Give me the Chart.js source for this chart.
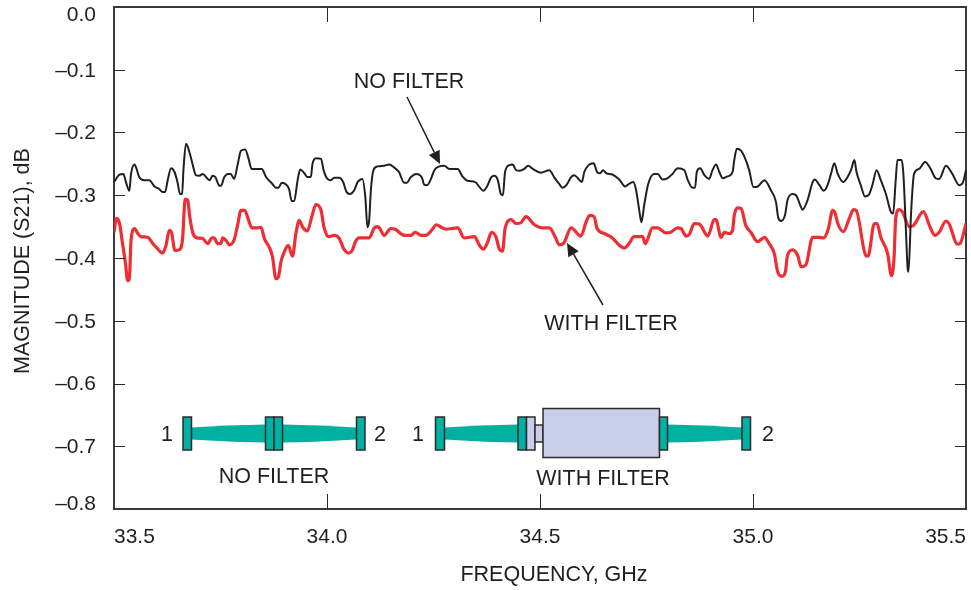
<!DOCTYPE html>
<html>
<head>
<meta charset="utf-8">
<title>Magnitude S21</title>
<script src="https://cdn.jsdelivr.net/npm/chart.js@4/dist/chart.umd.min.js"></script>
<style>
  html, body { margin: 0; padding: 0; background: #fff; }
  canvas { display: block; }
</style>
</head>
<body>
<canvas id="s21Chart" width="971" height="590"></canvas>
<script>
const xTicks = [33.5, 34.0, 34.5, 35.0, 35.5];
const yTicks = [0, -0.1, -0.2, -0.3, -0.4, -0.5, -0.6, -0.7, -0.8];

const noFilterFreq = [
  33.500,33.513,33.522,33.528,33.536,33.540,33.548,33.553,33.559,33.571,33.583,33.595,33.606,33.614,33.620,33.626,
  33.634,33.642,33.649,33.655,33.660,33.663,33.669,33.677,33.685,33.692,33.700,33.708,33.720,33.725,33.731,33.738,
  33.746,33.751,33.759,33.767,33.774,33.782,33.790,33.798,33.808,33.816,33.823,33.833,33.847,33.857,33.872,33.880,
  33.886,33.894,33.904,33.911,33.917,33.923,33.931,33.937,33.947,33.954,33.962,33.966,33.974,33.986,33.992,34.001,
  34.009,34.017,34.029,34.038,34.046,34.054,34.064,34.072,34.083,34.090,34.095,34.099,34.103,34.109,34.119,34.134,
  34.146,34.158,34.169,34.181,
  34.187,34.197,34.209,34.223,34.228,34.235,34.244,34.252,34.264,34.275,34.287,34.307,34.318,34.330,34.348,34.358,
  34.367,34.375,34.385,34.393,34.401,34.408,34.413,34.418,34.428,34.436,34.444,34.453,34.463,34.472,34.483,34.502,
  34.522,34.533,34.545,34.553,34.562,34.573,34.580,34.588,34.598,34.604,34.614,34.626,34.634,34.641,34.648,34.656,
  34.670,34.686,34.700,34.709,34.719,34.725,34.733,34.738,34.745,34.754,34.768,34.776,34.788,34.799,34.811,34.823,
  34.839,34.847,34.858,34.864,34.868,34.876,34.886,34.897,34.905,34.913,34.921,34.929,34.940,34.952,34.956,34.962,
  34.972,34.980,34.991,35.001,35.011,35.027,35.042,35.054,35.059,35.066,35.075,35.081,35.093,35.101,35.111,35.116,
  35.128,35.140,35.145,35.156,35.166,35.175,35.183,35.191,35.199,35.212,35.222,35.230,35.238,35.243,35.253,35.263,
  35.273,35.281,35.290,35.300,35.312,35.324,35.329,35.335,35.339,35.349,35.353,35.359,35.363,35.365,35.371,35.378,
  35.390,35.404,35.417,35.429,35.437,35.453,35.468,35.484,35.492,35.500
];
const noFilterMag = [
  -.279,-.267,-.266,-.279,-.293,-.266,-.251,-.258,-.271,-.276,-.276,-.286,-.290,-.295,-.295,-.276,
  -.257,-.263,-.279,-.298,-.298,-.260,-.218,-.231,-.252,-.268,-.269,-.266,-.274,-.276,-.269,-.271,
  -.284,-.285,-.271,-.266,-.266,-.274,-.252,-.229,-.227,-.242,-.258,-.258,-.258,-.271,-.282,-.288,
  -.288,-.280,-.283,-.290,-.309,-.309,-.276,-.259,-.265,-.271,-.271,-.250,-.241,-.242,-.260,-.274,
  -.276,-.272,-.272,-.279,-.295,-.298,-.292,-.279,-.274,-.303,-.351,-.340,-.292,-.260,-.254,-.253,
  -.251,-.256,-.263,-.280,
  -.280,-.271,-.266,-.272,-.283,-.284,-.274,-.260,-.254,-.253,-.258,-.258,-.270,-.277,-.279,-.287,
  -.293,-.287,-.272,-.269,-.276,-.298,-.300,-.263,-.252,-.251,-.260,-.261,-.258,-.253,-.258,-.264,
  -.260,-.271,-.282,-.288,-.284,-.271,-.268,-.272,-.279,-.263,-.252,-.249,-.263,-.265,-.260,-.265,
  -.267,-.275,-.286,-.282,-.279,-.290,-.324,-.343,-.314,-.282,-.266,-.266,-.275,-.273,-.266,-.257,
  -.260,-.276,-.288,-.288,-.263,-.257,-.268,-.274,-.260,-.251,-.263,-.273,-.270,-.263,-.244,-.226,
  -.229,-.239,-.260,-.287,-.286,-.276,-.292,-.311,-.335,-.341,-.332,-.308,-.298,-.300,-.316,-.323,
  -.308,-.279,-.275,-.284,-.293,-.284,-.266,-.249,-.266,-.279,-.271,-.260,-.244,-.263,-.284,-.302,
  -.298,-.282,-.260,-.276,-.298,-.327,-.329,-.276,-.244,-.244,-.266,-.356,-.417,-.422,-.329,-.266,
  -.258,-.247,-.258,-.273,-.274,-.253,-.266,-.284,-.281,-.260
];

const withFilterFreq = [
  33.500,33.506,33.513,33.519,33.527,33.532,33.536,33.540,33.548,33.556,33.563,33.579,33.591,33.602,33.614,33.622,
  33.630,33.635,33.643,33.653,33.661,33.667,33.673,33.678,33.686,33.696,33.708,33.720,33.730,33.735,33.743,33.751,
  33.755,33.763,33.771,33.782,33.790,33.798,33.807,33.816,33.824,33.837,33.845,33.853,33.866,33.872,33.880,33.886,
  33.892,33.900,33.909,33.919,33.927,33.935,33.943,33.954,33.964,33.974,33.986,33.993,34.004,34.017,34.029,34.039,
  34.051,34.060,34.066,34.076,34.099,34.111,34.119,34.124,34.134,34.150,34.162,34.173,34.183,
  34.197,34.207,34.221,34.232,34.244,34.257,34.268,34.279,34.307,34.322,34.346,34.358,34.367,34.377,34.386,34.397,
  34.404,34.412,34.418,34.432,34.444,34.455,34.467,34.487,34.506,34.522,34.536,34.545,34.555,34.573,34.596,34.608,
  34.617,34.627,34.634,34.651,34.670,34.682,34.698,34.709,34.721,34.741,34.747,34.764,34.776,34.795,34.807,34.823,
  34.831,34.843,34.851,34.862,34.874,34.894,34.909,34.913,34.925,34.933,34.944,34.952,34.956,34.964,34.972,34.983,
  34.995,35.011,35.027,35.038,35.050,35.058,35.068,35.076,35.081,35.093,35.105,35.113,35.124,35.140,35.152,35.166,
  35.177,35.187,35.192,35.199,35.212,35.226,35.236,35.242,35.265,35.270,35.285,35.291,35.300,35.316,35.325,35.331,
  35.335,35.343,35.351,35.367,35.377,35.400,35.414,35.427,35.437,35.453,35.460,35.480,35.486,35.500
];
const withFilterMag = [
  -.359,-.337,-.345,-.372,-.409,-.436,-.433,-.372,-.353,-.361,-.366,-.367,-.377,-.385,-.392,-.380,
  -.356,-.359,-.388,-.387,-.369,-.306,-.308,-.335,-.362,-.368,-.369,-.377,-.368,-.368,-.377,-.377,
  -.368,-.372,-.379,-.371,-.348,-.324,-.324,-.340,-.352,-.352,-.351,-.369,-.385,-.398,-.433,-.430,
  -.406,-.390,-.380,-.397,-.361,-.340,-.351,-.357,-.335,-.315,-.324,-.351,-.366,-.364,-.369,-.385,
  -.392,-.387,-.375,-.368,-.368,-.352,-.350,-.353,-.364,-.353,-.355,-.361,-.364,
  -.364,-.359,-.364,-.364,-.357,-.347,-.351,-.354,-.352,-.368,-.366,-.380,-.386,-.375,-.359,-.367,
  -.385,-.389,-.353,-.339,-.345,-.344,-.334,-.347,-.352,-.352,-.367,-.379,-.377,-.352,-.365,-.343,
  -.332,-.334,-.353,-.361,-.368,-.377,-.384,-.377,-.366,-.366,-.377,-.352,-.352,-.360,-.359,-.352,
  -.353,-.365,-.362,-.345,-.346,-.365,-.339,-.339,-.367,-.359,-.361,-.356,-.332,-.320,-.321,-.348,
  -.359,-.374,-.367,-.377,-.393,-.422,-.429,-.422,-.396,-.387,-.396,-.414,-.411,-.367,-.367,-.368,
  -.353,-.324,-.327,-.345,-.358,-.337,-.323,-.324,-.396,-.397,-.345,-.345,-.367,-.393,-.428,-.401,
  -.337,-.323,-.327,-.350,-.348,-.326,-.348,-.364,-.359,-.341,-.345,-.378,-.377,-.345
];

const inkColor = '#231f20';
const axisColor = '#3a3a3c';
const tealColor = '#00b0a0';
const lavenderColor = '#c8cde8';
const fontFamily = '"Liberation Sans", Arial, sans-serif';

function toPoints(freq, mag) {
  return freq.map((f, i) => ({ x: f, y: mag[i] }));
}

function formatMag(v) {
  const rounded = Math.round(v * 10) / 10;
  if (rounded === 0) return '0.0';
  return '\u2013' + Math.abs(rounded).toFixed(1);
}

// keep the frame where it is: no room for label overhang
function fixSize(s, size) {
  if (s.isHorizontal()) s.height = size; else s.width = size;
  s.paddingLeft = s.paddingRight = s.paddingTop = s.paddingBottom = 0;
}

function label(ctx, text, x, y, size) {
  ctx.font = (size || 21.5) + 'px ' + fontFamily;
  ctx.fillStyle = inkColor;
  ctx.textAlign = 'center';
  ctx.textBaseline = 'middle';
  ctx.fillText(text, x, y + 1);
}

function arrow(ctx, x1, y1, x2, y2) {
  const a = Math.atan2(y2 - y1, x2 - x1);
  const len = 13, half = 6;
  const bx = x2 - Math.cos(a) * len, by = y2 - Math.sin(a) * len;
  ctx.strokeStyle = inkColor;
  ctx.lineWidth = 1.5;
  ctx.beginPath();
  ctx.moveTo(x1, y1);
  ctx.lineTo(bx, by);
  ctx.stroke();
  ctx.fillStyle = inkColor;
  ctx.beginPath();
  ctx.moveTo(x2, y2);
  ctx.lineTo(bx - Math.sin(a) * half, by + Math.cos(a) * half);
  ctx.lineTo(bx + Math.sin(a) * half, by - Math.cos(a) * half);
  ctx.closePath();
  ctx.fill();
}

function box(ctx, x1, y1, x2, y2, fill) {
  ctx.fillStyle = fill;
  ctx.strokeStyle = '#2b2b2d';
  ctx.lineWidth = 1.5;
  ctx.fillRect(x1, y1, x2 - x1, y2 - y1);
  ctx.strokeRect(x1, y1, x2 - x1, y2 - y1);
}

// tapered waveguide section, half height h1 at x1 and h2 at x2
function taper(ctx, x1, x2, cy, h1, h2) {
  const cx = (x1 + x2) / 2;
  const ch = Math.max(h1, h2) - 0.5;
  ctx.fillStyle = tealColor;
  ctx.beginPath();
  ctx.moveTo(x1, cy - h1);
  ctx.quadraticCurveTo(cx, cy - ch, x2, cy - h2);
  ctx.lineTo(x2, cy + h2);
  ctx.quadraticCurveTo(cx, cy + ch, x1, cy + h1);
  ctx.closePath();
  ctx.fill();
}

function segment(ctx, x1, y1, x2, y2) {
  ctx.beginPath();
  ctx.moveTo(x1, y1);
  ctx.lineTo(x2, y2);
  ctx.stroke();
}

// inward tick marks on all four sides of the frame
function drawFrameTicks(chart) {
  const ctx = chart.ctx;
  const area = chart.chartArea;
  const xLen = 15, yLen = 11;
  ctx.strokeStyle = '#2b2b2d';
  ctx.lineWidth = 1;
  xTicks.slice(1, -1).forEach(v => {
    const px = Math.round(chart.scales.x.getPixelForValue(v)) + 0.5;
    segment(ctx, px, area.bottom, px, area.bottom - xLen);
    segment(ctx, px, area.top, px, area.top + xLen);
  });
  yTicks.slice(1, -1).forEach(v => {
    const py = Math.round(chart.scales.y.getPixelForValue(v)) + 0.5;
    segment(ctx, area.left, py, area.left + yLen, py);
    segment(ctx, area.right, py, area.right - yLen, py);
  });
}

const edgeLabels = {
  id: 'edgeLabels',
  beforeDraw(chart) {
    // the end labels of the magnitude axis sit inside the frame
    const y = chart.scales.y;
    const items = y.getLabelItems();
    items.forEach((item, i) => { item.options.translation[1] = y.getPixelForTick(i) + 1; });
    items[0].options.translation[1] = y.getPixelForTick(0) - 5;
    items[items.length - 1].options.translation[1] = y.getPixelForTick(items.length - 1) + 8;
  }
};

const annotations = {
  id: 'annotations',
  afterDraw(chart) {
    const ctx = chart.ctx;
    ctx.save();

    drawFrameTicks(chart);

    label(ctx, 'FREQUENCY, GHz', 554, 574);
    ctx.save();
    ctx.translate(22, 261);
    ctx.rotate(-Math.PI / 2);
    label(ctx, 'MAGNITUDE (S21), dB', 0, 0);
    ctx.restore();

    label(ctx, 'NO FILTER', 409, 81);
    arrow(ctx, 407, 97, 440, 164);
    label(ctx, 'WITH FILTER', 611, 323);
    arrow(ctx, 603, 305, 567, 243);

    const cy = 433.5, t = 417, b = 450;

    taper(ctx, 191, 266, cy, 6, 9);
    taper(ctx, 283, 356, cy, 9, 6);
    box(ctx, 183, t, 191.5, b, tealColor);
    box(ctx, 265.5, t, 274, b, tealColor);
    box(ctx, 274, t, 282.5, b, tealColor);
    box(ctx, 356.5, t, 365, b, tealColor);
    label(ctx, '1', 167, 434);
    label(ctx, '2', 380, 434);
    label(ctx, 'NO FILTER', 274, 476);

    taper(ctx, 444, 518, cy, 6, 9);
    taper(ctx, 667, 742, cy, 9, 6);
    box(ctx, 435.5, t, 444.5, b, tealColor);
    box(ctx, 518, t, 526.5, b, tealColor);
    box(ctx, 526.5, t, 535, b, lavenderColor);
    box(ctx, 535, 425, 543, 442, lavenderColor);
    box(ctx, 543, 408.5, 659.5, 457.5, lavenderColor);
    box(ctx, 659.5, t, 667.5, b, tealColor);
    box(ctx, 742, t, 750.5, b, tealColor);
    label(ctx, '1', 418, 434);
    label(ctx, '2', 768, 434);
    label(ctx, 'WITH FILTER', 603, 478);

    ctx.restore();
  }
};

const frameBorder = { display: true, color: axisColor, width: 2 };
const noGrid = { drawOnChartArea: false, drawTicks: false };

new Chart(document.getElementById('s21Chart').getContext('2d'), {
  type: 'line',
  data: {
    datasets: [
      {
        label: 'NO FILTER',
        data: toPoints(noFilterFreq, noFilterMag),
        borderColor: inkColor,
        borderWidth: 2,
        borderJoinStyle: 'round',
        cubicInterpolationMode: 'monotone',
        pointRadius: 0
      },
      {
        label: 'WITH FILTER',
        data: toPoints(withFilterFreq, withFilterMag),
        borderColor: '#ee2e33',
        borderWidth: 3.2,
        borderJoinStyle: 'round',
        cubicInterpolationMode: 'monotone',
        pointRadius: 0
      }
    ]
  },
  options: {
    responsive: false,
    animation: false,
    events: [],
    layout: { padding: 0 },
    plugins: { legend: { display: false }, tooltip: { enabled: false } },
    scales: {
      x: {
        type: 'linear',
        position: 'bottom',
        min: 33.5,
        max: 35.5,
        afterBuildTicks: s => { s.ticks = xTicks.map(v => ({ value: v })); },
        afterFit: s => fixSize(s, 81),
        border: frameBorder,
        grid: noGrid,
        ticks: {
          align: 'inner',
          padding: 16,
          maxRotation: 0,
          color: inkColor,
          font: { family: fontFamily, size: 21 },
          callback: v => Number(v).toFixed(1)
        }
      },
      x2: {
        type: 'linear',
        position: 'top',
        min: 33.5,
        max: 35.5,
        afterFit: s => fixSize(s, 7),
        border: frameBorder,
        grid: noGrid,
        ticks: { display: false }
      },
      y: {
        type: 'linear',
        position: 'left',
        min: -0.8,
        max: 0,
        afterBuildTicks: s => { s.ticks = yTicks.slice().reverse().map(v => ({ value: v })); },
        afterFit: s => fixSize(s, 114),
        border: frameBorder,
        grid: noGrid,
        ticks: {
          padding: 18,
          color: inkColor,
          font: { family: fontFamily, size: 21 },
          callback: formatMag
        }
      },
      y2: {
        type: 'linear',
        position: 'right',
        min: -0.8,
        max: 0,
        afterFit: s => fixSize(s, 5),
        border: frameBorder,
        grid: noGrid,
        ticks: { display: false }
      }
    }
  },
  plugins: [edgeLabels, annotations]
});
</script>
</body>
</html>
